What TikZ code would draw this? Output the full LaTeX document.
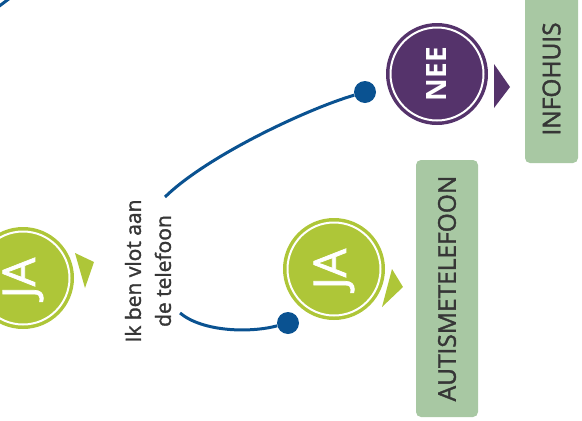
\documentclass[tikz,border=0pt]{standalone}
\usepackage{fontspec}
\setmainfont{Open Sans}
\newfontfamily\semibold[FakeBold=1.6]{Open Sans}
\usepackage{tikz}
\usetikzlibrary{positioning}
\usetikzlibrary{calc}
\definecolor{jagreen}{HTML}{AEC638}
\definecolor{neepurple}{HTML}{55336B}
\definecolor{linkblue}{HTML}{0A5291}
\definecolor{boxgreen}{HTML}{A8C8A3}
\definecolor{darktext}{HTML}{363636}
\tikzstyle{answer}=[circle,minimum size=102pt,inner sep=0pt,text=white,rotate=90]
\tikzstyle{ring}=[draw=white,line width=2pt]
\tikzstyle{bluedot}=[circle,fill=linkblue,minimum size=22pt,inner sep=0pt]
\tikzstyle{link} = [draw,linkblue,line width=3pt]
\tikzstyle{target}=[rounded corners=5pt,fill=boxgreen,text=darktext,rotate=90,inner sep=0pt,font=\semibold\fontsize{24.5}{28}\selectfont]
\begin{document}
\begin{tikzpicture}[x=1pt,y=-1pt]
    \useasboundingbox (0,0) rectangle (582,421);

    % the answer circles
    \node[answer,fill=jagreen,font=\semibold\fontsize{45}{50}\selectfont] (ja1) at (23,278) {JA};
    \node[answer,fill=jagreen,font=\semibold\fontsize{45}{50}\selectfont] (ja2) at (334,269) {JA};
    \node[answer,fill=neepurple,font=\bfseries\fontsize{28}{32}\selectfont] (nee) at (437,74) {NEE};
    \foreach \name in {ja1, ja2, nee}
        \draw[ring] (\name.center) circle (46.5pt);

    % pointers
    \fill[jagreen] (75,253) -- (94,262) -- (85,288) -- cycle;
    \fill[jagreen] (392,269) -- (403,287) -- (382,307) -- cycle;
    \fill[neepurple] (494,64) -- (510,87) -- (494,108) -- cycle;

    % the question
    \node[text=darktext,rotate=90,align=center,font=\semibold\fontsize{21}{30}\selectfont] (q) at (148,271) {Ik ben vlot aan\\de telefoon};
    \coordinate (qtop) at (165,197);
    \coordinate (qbot) at (180,313);
    \node[bluedot] (dotnee) at (365,92) {};
    \node[bluedot] (dotja) at (288,323) {};
    \path[link] (qtop) .. controls (207,156) and (307,109) .. (dotnee);
    \path[link] (qbot) .. controls (203,332) and (250,333) .. (dotja);

    % end of the previous branch
    \coordinate (offa) at (-6,10);
    \coordinate (offb) at (10,-2);
    \path[link] (offa) -- (offb);

    % where to go
    \node[target,minimum width=257pt,minimum height=62pt] (autisme) at (447,288.5) {AUTISMETELEFOON};
    \node[target,minimum width=168pt,minimum height=53pt] (infohuis) at (551.5,79) {INFOHUIS};
\end{tikzpicture}
\end{document}
